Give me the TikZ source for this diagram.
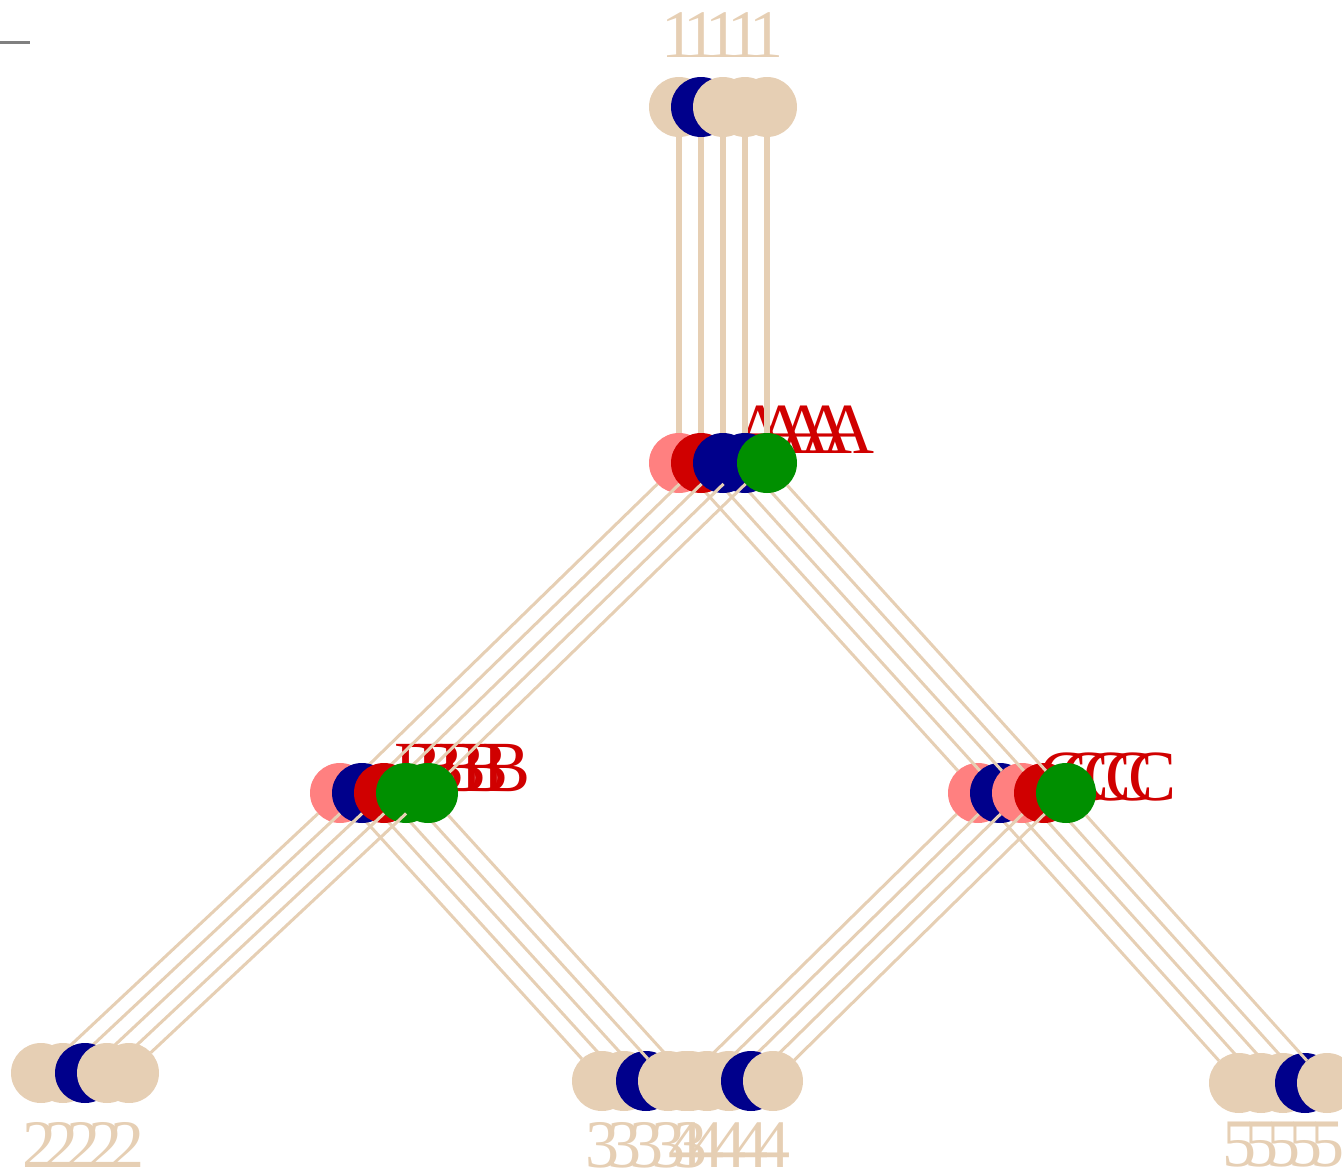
\documentclass[tikz,border=0pt]{standalone}
\usepackage{fontspec}
\setmainfont{Liberation Serif}
\definecolor{tanc}{RGB}{230,207,180}
\definecolor{navyc}{RGB}{0,0,139}
\definecolor{redc}{RGB}{208,0,0}
\definecolor{pinkc}{RGB}{255,128,128}
\definecolor{greenc}{RGB}{0,143,0}
\definecolor{grayc}{RGB}{128,128,128}
\tikzset{
  vert/.style={circle,minimum size=60pt,inner sep=0pt,outer sep=0pt,draw=none},
  digit/.style={inner sep=0pt,text=tanc,font=\fontsize{68}{68}\selectfont},
  letter/.style={inner sep=0pt,text=redc,font=\fontsize{72}{72}\selectfont},
  thickedge/.style={draw=tanc,line width=6pt},
  thinedge/.style={draw=tanc,line width=3pt},
}
\begin{document}
\begin{tikzpicture}[x=1pt,y=-1pt]
\useasboundingbox (0,0) rectangle (1342,1175);
\coordinate (g1) at (0,42.5);
\coordinate (g2) at (30,42.5);
\draw[grayc,line width=2.5pt] (g1) -- (g2);
\foreach \k/\cR/\cA/\cB/\cC/\cL/\cM/\cN/\cP in {
 1/tanc/pinkc/pinkc/pinkc/tanc/tanc/tanc/tanc,
 2/navyc/redc/navyc/navyc/tanc/tanc/tanc/tanc,
 3/tanc/navyc/redc/pinkc/navyc/navyc/tanc/tanc,
 4/tanc/navyc/greenc/redc/tanc/tanc/navyc/navyc,
 5/tanc/greenc/greenc/greenc/tanc/tanc/tanc/tanc}{
 \pgfmathsetmacro\dx{22*(\k-1)}
 \node[vert,fill=\cR] (r\k) at ({679+\dx},107) {};
 \node[vert,fill=\cA] (a\k) at ({679+\dx},463) {};
 \node[vert,fill=\cB] (b\k) at ({340+\dx},793) {};
 \node[vert,fill=\cC] (c\k) at ({978+\dx},793) {};
 \node[vert,fill=\cL] (l\k) at ({41+\dx},1073) {};
 \node[vert,fill=\cM] (m\k) at ({602+\dx},1081) {};
 \node[vert,fill=\cN] (n\k) at ({685+\dx},1081) {};
 \node[vert,fill=\cP] (p\k) at ({1239+\dx},1083) {};
 \node[digit] (tr\k) at ({678+\dx},35) {1};
 \node[digit] (tl\k) at ({39+\dx},1145) {2};
 \node[digit] (tm\k) at ({602+\dx},1145) {3};
 \node[digit] (tn\k) at ({685+\dx},1145) {4};
 \node[digit] (tp\k) at ({1239+\dx},1145) {5};
 \node[letter] (ta\k) at ({760+\dx},430) {A};
 \node[letter] (tb\k) at ({419+\dx},768) {B};
 \node[letter] (tc\k) at ({1064+\dx},777) {C};
 \draw[thickedge] (r\k) -- (a\k);
 \draw[thinedge] (a\k) -- (b\k);
 \draw[thinedge] (a\k) -- (c\k);
 \draw[thinedge] (b\k) -- (l\k);
 \draw[thinedge] (b\k) -- (m\k);
 \draw[thinedge] (c\k) -- (n\k);
 \draw[thinedge] (c\k) -- (p\k);
}
\end{tikzpicture}
\end{document}
